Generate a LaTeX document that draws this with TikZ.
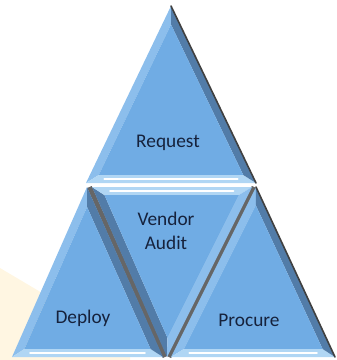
\documentclass[tikz,border=0pt]{standalone}
\usepackage{fontspec}
\setmainfont{Carlito}
\usepackage{xcolor}
\usepackage{tikz}
\usetikzlibrary{calc}

\definecolor{faceblue}{RGB}{112,172,228}
\definecolor{litblue}{RGB}{176,214,244}
\definecolor{midblue}{RGB}{140,190,236}
\definecolor{duskblue}{RGB}{82,124,168}
\definecolor{inkblue}{RGB}{22,34,60}
\definecolor{creamy}{RGB}{255,246,226}

\tikzset{
  face/.style={fill=faceblue},
  litside/.style={fill=litblue},
  softside/.style={fill=midblue},
  darkside/.style={fill=duskblue},
  glint/.style={white, line width=1.6pt, line cap=round},
  rim/.style={draw=black!75, line width=1.2pt, line cap=round},
  seam/.style={draw=black!60, line width=3.6pt},
  steplabel/.style={text=inkblue, font=\fontsize{14.5}{18.5}\selectfont, align=center, inner sep=0.75pt}
}

% one bevelled triangle: #1 prefix, facets a-b, b-c, c-a
\newcommand{\bevtri}[4]{%
  \foreach \v in {a,b,c} \coordinate (#1\v2) at ($(#1\v)!\csname f#1\endcsname!(#1i)$);
  \fill[#2] (#1a) -- (#1b) -- (#1b2) -- (#1a2) -- cycle;
  \fill[#3] (#1b) -- (#1c) -- (#1c2) -- (#1b2) -- cycle;
  \fill[#4] (#1c) -- (#1a) -- (#1a2) -- (#1c2) -- cycle;
  \fill[face] (#1a2) -- (#1b2) -- (#1c2) -- cycle;
}

\begin{document}
\begin{tikzpicture}[x=0.75pt,y=0.75pt,yscale=-1,xscale=1]
\useasboundingbox (0,0) rectangle (336,360);

%Shape: pale wedge behind the pyramid
\fill[creamy] (0,268) -- (130,345) -- (130,360) -- (0,360) -- cycle;

%Top triangle
\coordinate (ta) at (171,6);
\coordinate (tb) at (86,183);
\coordinate (tc) at (256,183);
\coordinate (ti) at (171,129.5);
\def\ft{0.15}
\bevtri{t}{softside}{litside}{darkside}
\draw[glint] ($(tb)!0.5!(tb2)+(12,0)$) -- ($(tc)!0.5!(tc2)+(-12,0)$);
\draw[rim] (ta) -- (tc);

%Bottom left triangle
\coordinate (la) at (87,187);
\coordinate (lb) at (12,357);
\coordinate (lc) at (163,357);
\coordinate (li) at (87.4,308.2);
\def\fl{0.165}

%Middle inverted triangle
\coordinate (ma) at (167,357);
\coordinate (mb) at (92,187);
\coordinate (mc) at (252,187);
\coordinate (mi) at (169.9,237.4);
\def\fm{0.16}

%Bottom right triangle
\coordinate (ra) at (256,187);
\coordinate (rb) at (171,357);
\coordinate (rc) at (335,357);
\coordinate (ri) at (254.7,304.8);
\def\fr{0.155}

%Straight Lines: dark seams between the lower triangles
\draw[seam] ($(la)!0.5!(mb)$) -- ($(lc)!0.5!(ma)$);
\draw[seam] ($(ra)!0.5!(mc)$) -- ($(rb)!0.5!(ma)$);

\bevtri{l}{softside}{litside}{darkside}
\draw[glint] ($(lb)!0.5!(lb2)+(12,0)$) -- ($(lc)!0.5!(lc2)+(-12,0)$);
\bevtri{m}{darkside}{litside}{softside}
\draw[glint] ($(mb)!0.5!(mb2)+(12,0)$) -- ($(mc)!0.5!(mc2)+(-12,0)$);
\bevtri{r}{softside}{litside}{darkside}
\draw[glint] ($(rb)!0.5!(rb2)+(12,0)$) -- ($(rc)!0.5!(rc2)+(-12,0)$);
\draw[rim] (ra) -- (rc);

% Text Node
\node[steplabel] (request) at (168,143) {Request};
% Text Node
\node[steplabel] (audit) at (166,231) {Vendor\\Audit};
% Text Node
\node[steplabel] (deploy) at (83,318) {Deploy};
% Text Node
\node[steplabel] (procure) at (249,320) {Procure};

\end{tikzpicture}
\end{document}
